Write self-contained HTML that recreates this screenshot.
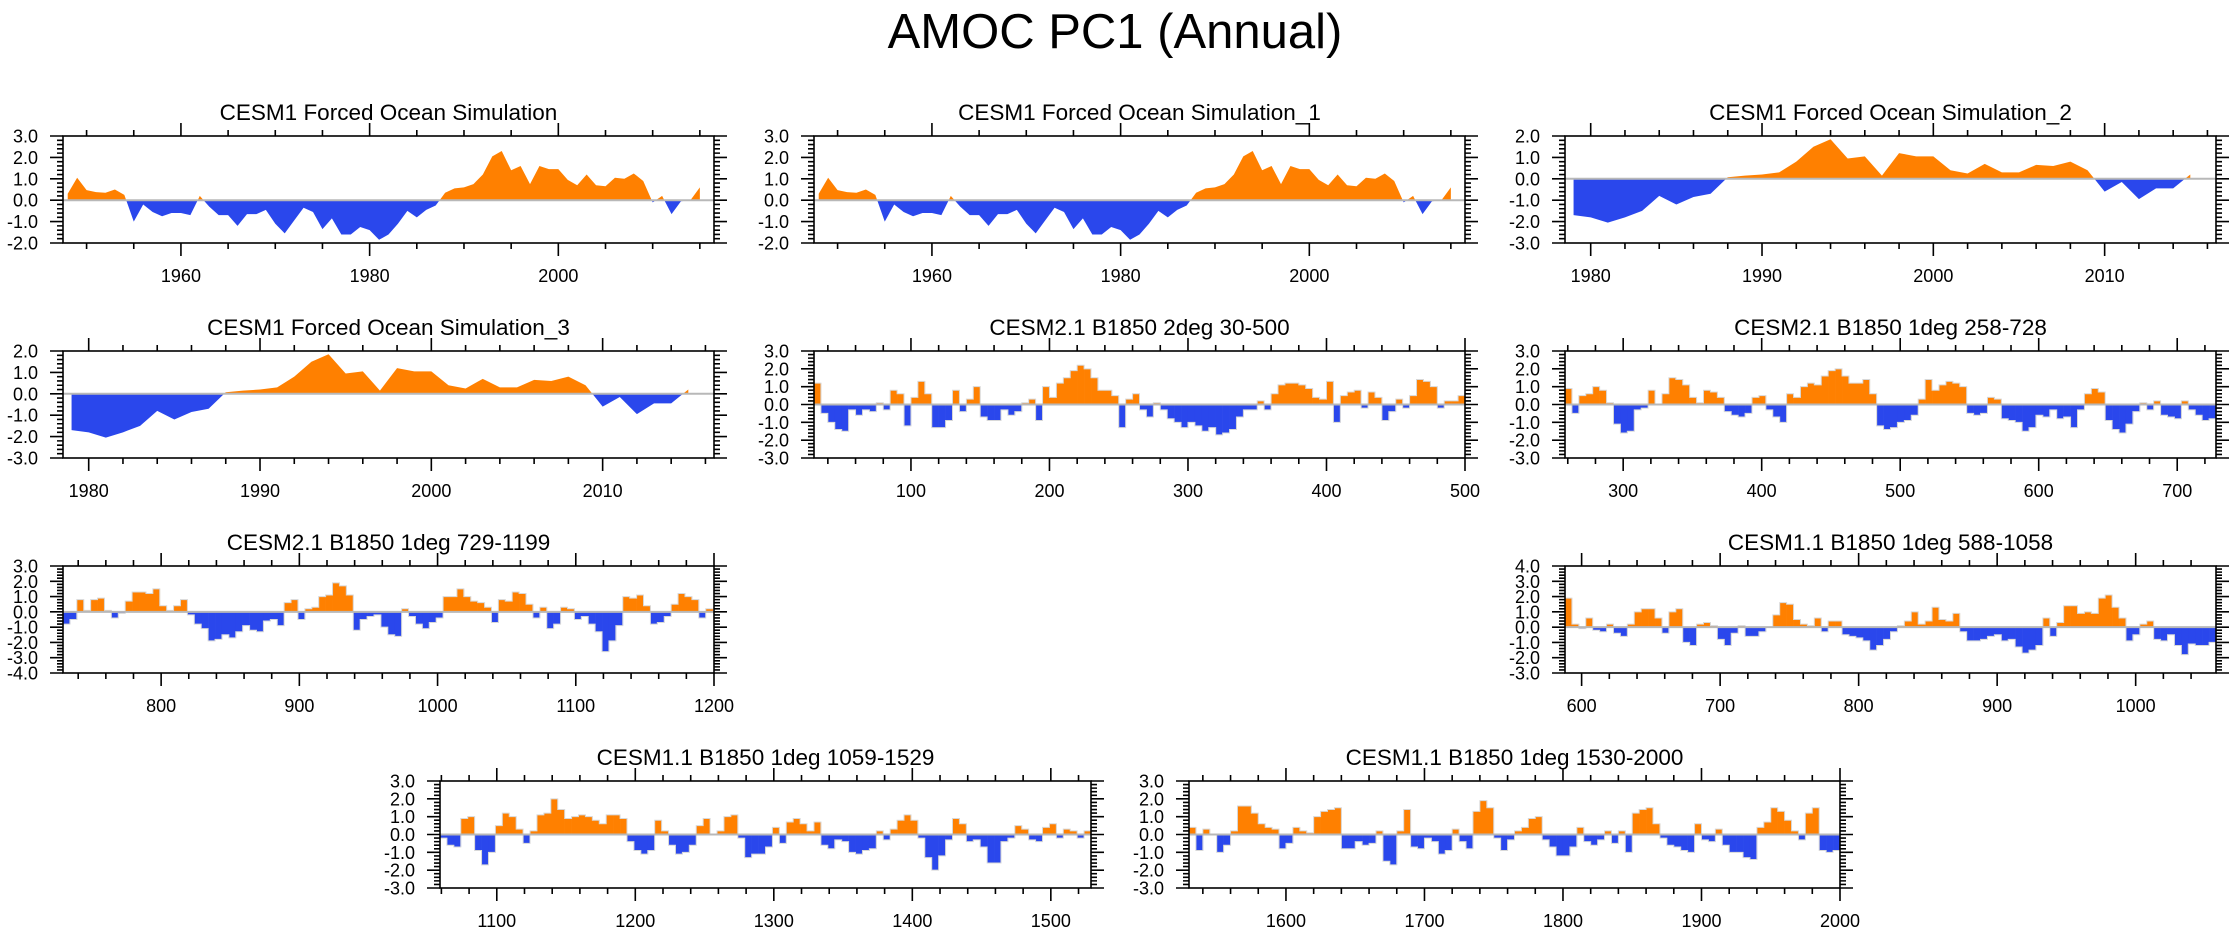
<!DOCTYPE html>
<html><head><meta charset="utf-8">
<style>
html,body{margin:0;padding:0;background:#fff;}
svg{display:block;font-family:"Liberation Sans",Arial,sans-serif;}
</style></head>
<body>
<svg id="fig" width="2230" height="935" viewBox="0 0 2230 935" xmlns="http://www.w3.org/2000/svg">
<text x="1115" y="48" text-anchor="middle" font-size="49">AMOC PC1 (Annual)</text>
</svg>
<script>
// ---- data: yearly series (forced ocean simulations) ----
const forcedYearsStart = 1948;
const forcedValues = [0.3,1.05,0.47,0.38,0.35,0.5,0.25,-1.0,-0.2,-0.55,-0.75,-0.6,-0.6,-0.7,0.2,-0.3,-0.7,-0.7,-1.2,-0.65,-0.65,-0.45,-1.1,-1.55,-0.95,-0.35,-0.55,-1.35,-0.85,-1.6,-1.6,-1.25,-1.4,-1.85,-1.6,-1.1,-0.5,-0.8,-0.45,-0.25,0.35,0.55,0.6,0.75,1.2,2.05,2.3,1.4,1.6,0.75,1.6,1.45,1.45,0.95,0.7,1.2,0.7,0.65,1.05,1.0,1.25,0.9,-0.1,0.2,-0.65,-0.05,0.0,0.6];
const forced2YearsStart = 1979;
const forced2Values = [-1.7,-1.8,-2.05,-1.8,-1.5,-0.8,-1.2,-0.85,-0.7,0.07,0.15,0.2,0.3,0.8,1.5,1.85,0.95,1.05,0.15,1.2,1.05,1.05,0.4,0.25,0.7,0.3,0.3,0.65,0.6,0.8,0.4,-0.6,-0.15,-0.95,-0.45,-0.45,0.2];
// ---- data: 5-year block means (control runs) ----
const blockLen = 5;
const cesm2_2deg = [1.2,-0.5,-1.0,-1.4,-1.5,-0.3,-0.6,-0.3,-0.4,0.1,-0.3,0.8,0.6,-1.2,0.4,1.3,0.6,-1.3,-1.3,-0.9,0.8,-0.4,0.3,1.0,-0.7,-0.9,-0.9,-0.3,-0.6,-0.4,0.1,0.3,-0.9,1.0,0.4,1.2,1.5,1.9,2.2,2.0,1.5,0.8,0.8,0.5,-1.3,0.3,0.6,-0.3,-0.7,0.1,-0.3,-0.8,-1.0,-1.3,-1.0,-1.2,-1.5,-1.3,-1.7,-1.6,-1.4,-0.7,-0.3,-0.3,0.2,-0.3,0.6,1.1,1.2,1.2,1.1,0.9,0.4,0.3,1.3,-1.0,0.5,0.7,0.8,-0.2,0.7,0.4,-0.9,-0.4,0.3,-0.2,0.5,1.4,1.3,1.0,-0.2,0.2,0.2,0.5];
const cesm2_258 = [0.9,-0.5,0.5,0.6,1.0,0.8,0.1,-1.1,-1.6,-1.5,-0.3,-0.2,0.8,0.0,0.6,1.5,1.4,1.1,0.4,0.1,0.8,0.7,0.4,-0.4,-0.6,-0.7,-0.5,0.4,0.5,-0.3,-0.7,-1.0,0.6,0.4,1.0,1.2,1.1,1.6,1.9,2.0,1.6,1.2,1.2,1.4,0.6,-1.2,-1.4,-1.3,-1.0,-0.9,-0.6,0.3,1.4,0.8,1.1,1.3,1.2,1.0,-0.5,-0.6,-0.5,0.4,0.3,-0.8,-0.9,-1.0,-1.5,-1.3,-0.6,-0.7,-0.3,-0.8,-0.7,-1.3,-0.3,0.6,0.9,0.7,-0.9,-1.4,-1.6,-1.1,-0.4,0.1,-0.3,0.2,-0.6,-0.7,-0.8,0.2,-0.3,-0.6,-0.9,-0.8];
const cesm2_729 = [-0.8,-0.5,0.8,0.1,0.8,0.9,0.1,-0.4,-0.1,0.7,1.3,1.3,1.2,1.5,0.4,0.1,0.4,0.8,-0.2,-0.8,-1.1,-1.9,-1.8,-1.5,-1.7,-1.3,-0.9,-1.2,-1.3,-0.6,-0.5,-0.9,0.6,0.8,-0.5,0.2,0.3,1.0,1.1,1.9,1.7,1.1,-1.2,-0.5,-0.3,-0.2,-1.0,-1.5,-1.6,0.2,-0.3,-0.8,-1.1,-0.7,-0.4,1.0,1.0,1.5,1.0,0.7,0.6,0.3,-0.7,0.8,0.7,1.3,1.2,0.5,-0.4,0.3,-1.1,-0.8,0.3,0.2,-0.5,-0.3,-0.8,-1.3,-2.6,-1.9,-0.9,1.0,0.9,1.1,0.4,-0.8,-0.7,-0.3,0.5,1.2,1.0,0.8,-0.4,0.2];
const cesm11_588 = [1.9,0.2,-0.1,0.6,-0.2,-0.3,0.2,-0.4,-0.6,0.2,1.0,1.2,1.2,0.6,-0.4,1.0,1.2,-1.0,-1.2,0.2,0.3,0.1,-0.8,-1.2,-0.4,0.1,-0.6,-0.6,-0.3,0.0,0.8,1.6,1.5,0.5,0.2,0.1,0.6,-0.3,0.4,0.4,-0.5,-0.6,-0.7,-0.9,-1.5,-1.2,-0.8,-0.3,0.1,0.4,1.0,0.2,0.4,1.3,0.5,0.4,0.9,-0.3,-0.9,-0.9,-0.8,-0.6,-0.5,-0.9,-0.8,-1.3,-1.7,-1.5,-1.2,0.6,-0.6,0.3,1.4,1.4,0.9,1.0,0.9,1.9,2.1,1.3,0.6,-0.9,-0.5,0.2,0.4,-0.8,-0.9,-0.5,-1.2,-1.8,-1.1,-1.2,-1.2,-1.0];
const cesm11_1059 = [-0.2,-0.6,-0.7,0.9,1.0,-0.9,-1.7,-1.0,0.5,1.2,1.0,0.3,-0.5,0.2,1.1,1.2,2.0,1.4,0.9,1.0,1.1,1.0,0.8,0.6,1.1,1.1,0.9,-0.4,-0.9,-1.1,-0.9,0.8,0.2,-0.6,-1.1,-1.0,-0.6,0.5,0.9,0.0,0.2,1.0,1.1,-0.2,-1.3,-1.1,-1.1,-0.7,0.4,-0.5,0.7,0.9,0.6,0.2,0.7,-0.6,-0.8,-0.3,-0.4,-1.0,-1.1,-0.9,-0.8,0.2,-0.3,0.3,0.8,1.1,0.8,-0.2,-1.3,-2.0,-1.2,-0.3,0.9,0.6,-0.4,-0.3,-0.7,-1.6,-1.6,-0.4,-0.2,0.5,0.3,-0.3,-0.4,0.4,0.6,-0.2,0.3,0.2,-0.2,0.2];
const cesm11_1530 = [0.4,-0.9,0.3,0.0,-1.0,-0.6,0.2,1.6,1.6,1.2,0.6,0.4,0.3,-0.8,-0.5,0.4,0.2,0.1,1.0,1.3,1.4,1.5,-0.8,-0.8,-0.4,-0.6,-0.5,0.2,-1.5,-1.7,0.2,1.4,-0.7,-0.8,-0.2,-0.4,-1.1,-0.9,0.3,-0.4,-0.8,1.3,1.9,1.5,-0.2,-0.9,-0.3,0.2,0.4,0.9,1.0,-0.3,-0.7,-1.2,-1.2,-0.7,0.4,-0.4,-0.6,-0.3,0.2,-0.5,0.2,-1.0,1.2,1.4,1.5,0.6,-0.2,-0.6,-0.7,-0.9,-1.0,0.6,-0.3,-0.4,0.3,-0.6,-1.0,-1.0,-1.3,-1.4,0.4,0.7,1.5,1.3,0.8,0.2,-0.3,1.2,1.5,-0.9,-1.0,-0.9];
// ---- tick labels ----
const yTicks_m2_3 = ["-2.0","-1.0","0.0","1.0","2.0","3.0"];
const yTicks_m3_2 = ["-3.0","-2.0","-1.0","0.0","1.0","2.0"];
const yTicks_m3_3 = ["-3.0","-2.0","-1.0","0.0","1.0","2.0","3.0"];
const yTicks_m4_3 = ["-4.0","-3.0","-2.0","-1.0","0.0","1.0","2.0","3.0"];
const yTicks_m3_4 = ["-3.0","-2.0","-1.0","0.0","1.0","2.0","3.0","4.0"];

const ORANGE = "#ff8000", BLUE = "#2a47ec";
const NS = "http://www.w3.org/2000/svg";
const svg = document.getElementById("fig");
const W = 651, H = 107;

function mk(tag, attrs, parent){
  const e = document.createElementNS(NS, tag);
  for (const k in attrs) e.setAttribute(k, attrs[k]);
  (parent||svg).appendChild(e);
  return e;
}

function panel(cfg){
  const g = mk("g", {});
  
  
  const x0 = cfg.x, y0 = cfg.y;
  const xs = t => x0 + (t - cfg.xmin) / (cfg.xmax - cfg.xmin) * W;
  const ys = v => y0 + (cfg.ymax - v) / (cfg.ymax - cfg.ymin) * H;
  const tt = mk("text", {x: x0 + W/2, y: y0 - 16, "text-anchor": "middle", "font-size": 22.5}, g);
  tt.textContent = cfg.title;
  
  
  const dg = mk("g", {}, g);
  
  
  if (cfg.mode === "area") {
    const vals = cfg.values, t0 = cfg.start;
    const pts = [];
    for (let i = 0; i < vals.length; i++) {
      if (i > 0 && (vals[i-1] > 0) !== (vals[i] > 0) && vals[i-1] !== 0 && vals[i] !== 0) {
        const f = vals[i-1] / (vals[i-1] - vals[i]);
        pts.push([t0 + i - 1 + f, 0]);
      }
      pts.push([t0 + i, vals[i]]);
    }
    const first = pts[0][0], last = pts[pts.length-1][0];
    let up = `M${xs(first)},${ys(0)}`, dn = up;
    pts.forEach(p => { up += `L${xs(p[0])},${ys(Math.max(p[1],0))}`; dn += `L${xs(p[0])},${ys(Math.min(p[1],0))}`; });
    up += `L${xs(last)},${ys(0)}Z`; dn += `L${xs(last)},${ys(0)}Z`;
    const a = mk("path", {d: up, fill: ORANGE}, dg);
    
    
    const b = mk("path", {d: dn, fill: BLUE}, dg);
    
    
  } else {
    let outline = "";
    cfg.values.forEach((v, i) => {
      const ta = cfg.start + i * blockLen, tb = ta + blockLen;
      const yv = ys(v), yz = ys(0);
      const r = mk("rect", {x: xs(ta), y: Math.min(yv, yz), width: xs(tb) - xs(ta) + 0.3, height: Math.abs(yv - yz), fill: v >= 0 ? ORANGE : BLUE}, dg);
      
      
      outline += (i === 0 ? "M" : "L") + xs(ta) + "," + yv + "L" + xs(tb) + "," + yv;
    });
    const ol = mk("path", {d: outline, fill: "none", stroke: "#d8d8d8", "stroke-width": 1}, dg);
    
    
  }
  const zl = mk("line", {x1: x0, x2: x0 + W, y1: ys(0), y2: ys(0), stroke: "#b8b8b8", "stroke-width": 2}, g);
  
  
  const bx = mk("rect", {x: x0, y: y0, width: W, height: H, fill: "none", stroke: "#000", "stroke-width": 1.6}, g);
  
  
  const yl = mk("g", {}, g);
  
  
  let tp = "";
  for (let v = cfg.ymin; v <= cfg.ymax + 1e-6; v += 0.2) {
    const major = Math.abs(v - Math.round(v)) < 1e-6;
    const L = major ? 13 : 6, y = ys(v);
    tp += `M${x0 - L},${y}H${x0}M${x0 + W},${y}h${L}`;
  }
  cfg.yticks.forEach(s => {
    const tx = mk("text", {x: x0 - 25, y: ys(parseFloat(s)) + 6.5, "text-anchor": "end", "font-size": 18}, yl);
    tx.textContent = s;
    
    
  });
  const xl = mk("g", {}, g);
  
  
  const mstart = Math.ceil(cfg.xmin / cfg.minor) * cfg.minor;
  for (let t = mstart; t <= cfg.xmax + 1e-6; t += cfg.minor) {
    const major = t % cfg.major === 0;
    const L = major ? 13 : 6, x = xs(t);
    tp += `M${x},${y0 + H}v${L}M${x},${y0}v${-L}`;
    if (major) {
      const tx = mk("text", {x: x, y: y0 + H + 39, "text-anchor": "middle", "font-size": 18}, xl);
      tx.textContent = String(t);
      
      
    }
  }
  const tk = mk("path", {d: tp, stroke: "#000", "stroke-width": 1.6, fill: "none"}, g);
  
  
}

const R1 = 136, R2 = 351, R3 = 566, R4 = 781;
const C1 = 63, C2 = 814, C3 = 1565;
panel({name:"panel-forced-ocean", title:"CESM1 Forced Ocean Simulation", x:C1, y:R1, mode:"area", values:forcedValues, start:forcedYearsStart, xmin:1947.5, xmax:2016.5, ymin:-2, ymax:3, yticks:yTicks_m2_3, major:20, minor:5});
panel({name:"panel-forced-ocean-1", title:"CESM1 Forced Ocean Simulation_1", x:C2, y:R1, mode:"area", values:forcedValues, start:forcedYearsStart, xmin:1947.5, xmax:2016.5, ymin:-2, ymax:3, yticks:yTicks_m2_3, major:20, minor:5});
panel({name:"panel-forced-ocean-2", title:"CESM1 Forced Ocean Simulation_2", x:C3, y:R1, mode:"area", values:forced2Values, start:forced2YearsStart, xmin:1978.5, xmax:2016.5, ymin:-3, ymax:2, yticks:yTicks_m3_2, major:10, minor:2});
panel({name:"panel-forced-ocean-3", title:"CESM1 Forced Ocean Simulation_3", x:C1, y:R2, mode:"area", values:forced2Values, start:forced2YearsStart, xmin:1978.5, xmax:2016.5, ymin:-3, ymax:2, yticks:yTicks_m3_2, major:10, minor:2});
panel({name:"panel-cesm21-2deg-30-500", title:"CESM2.1 B1850 2deg 30-500", x:C2, y:R2, mode:"bars", values:cesm2_2deg, start:30, xmin:30, xmax:500, ymin:-3, ymax:3, yticks:yTicks_m3_3, major:100, minor:20});
panel({name:"panel-cesm21-1deg-258-728", title:"CESM2.1 B1850 1deg 258-728", x:C3, y:R2, mode:"bars", values:cesm2_258, start:258, xmin:258, xmax:728, ymin:-3, ymax:3, yticks:yTicks_m3_3, major:100, minor:20});
panel({name:"panel-cesm21-1deg-729-1199", title:"CESM2.1 B1850 1deg 729-1199", x:C1, y:R3, mode:"bars", values:cesm2_729, start:729, xmin:729, xmax:1200, ymin:-4, ymax:3, yticks:yTicks_m4_3, major:100, minor:20});
panel({name:"panel-cesm11-1deg-588-1058", title:"CESM1.1 B1850 1deg 588-1058", x:C3, y:R3, mode:"bars", values:cesm11_588, start:588, xmin:588, xmax:1058, ymin:-3, ymax:4, yticks:yTicks_m3_4, major:100, minor:20});
panel({name:"panel-cesm11-1deg-1059-1529", title:"CESM1.1 B1850 1deg 1059-1529", x:440, y:R4, mode:"bars", values:cesm11_1059, start:1059, xmin:1059, xmax:1529, ymin:-3, ymax:3, yticks:yTicks_m3_3, major:100, minor:20});
panel({name:"panel-cesm11-1deg-1530-2000", title:"CESM1.1 B1850 1deg 1530-2000", x:1189, y:R4, mode:"bars", values:cesm11_1530, start:1530, xmin:1530, xmax:2000, ymin:-3, ymax:3, yticks:yTicks_m3_3, major:100, minor:20});
</script>
</body></html>
